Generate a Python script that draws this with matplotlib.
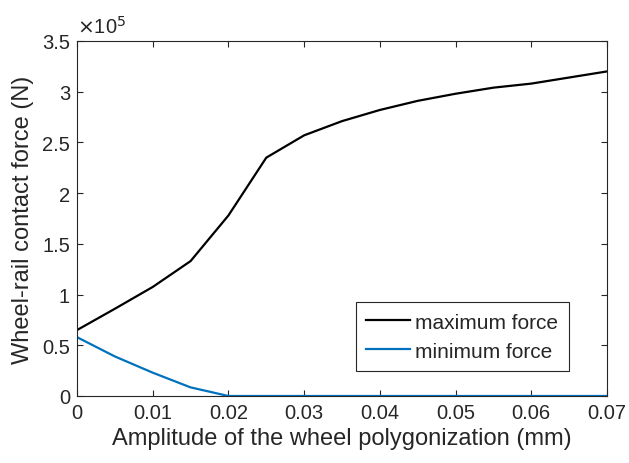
import numpy as np
import matplotlib
matplotlib.use("Agg")
import matplotlib.pyplot as plt
from matplotlib.ticker import FuncFormatter

# amplitude of wheel polygonization (mm)
amplitude = [0.0, 0.005, 0.01, 0.015, 0.02, 0.025, 0.03, 0.035,
             0.04, 0.045, 0.05, 0.055, 0.06, 0.065, 0.07]
# contact force, in units of 1e5 N
max_force = [0.65, 0.86, 1.075, 1.33, 1.78, 2.35, 2.57, 2.71,
             2.82, 2.91, 2.98, 3.04, 3.08, 3.14, 3.20]
min_force = [0.58, 0.39, 0.23, 0.085, 0.0, 0.0, 0.0, 0.0,
             0.0, 0.0, 0.0, 0.0, 0.0, 0.0, 0.0]

SCALE = 1e5
TXT = (0.15, 0.15, 0.15)

plt.rcParams['font.family'] = ['Liberation Sans', 'DejaVu Sans']

fig = plt.figure(figsize=(6.29, 4.64), dpi=100)
# axes box: x 77..607 px, y 42..397 px
ax = fig.add_axes([77 / 629, 1 - 397 / 464, 530 / 629, 355 / 464])

ax.plot(amplitude, np.array(max_force) * SCALE, color='black', lw=1.6,
        label='maximum force')
ax.plot(amplitude, np.array(min_force) * SCALE, color=(0, 0.447, 0.741),
        lw=1.6, label='minimum force')

ax.set_xlim(0, 0.07)
ax.set_ylim(0, 3.5e5)
ax.set_xticks(np.arange(0, 0.0701, 0.01))
ax.set_yticks(np.arange(0, 3.51e5, 0.5e5))
ax.xaxis.set_major_formatter(FuncFormatter(lambda v, p: '0' if v == 0 else f'{v:.2f}'))
ax.yaxis.set_major_formatter(FuncFormatter(lambda v, p: f'{v / SCALE:g}'))

ax.tick_params(direction='in', top=True, right=True, labelsize=14.5,
               colors=TXT, length=4.5, width=0.8, pad=5)
for s in ax.spines.values():
    s.set_color(TXT)
    s.set_linewidth(0.8)

ax.set_xlabel('Amplitude of the wheel polygonization (mm)', fontsize=17, color=TXT,
              labelpad=4)
ax.set_ylabel('Wheel-rail contact force (N)', fontsize=17, color=TXT, labelpad=6)
ax.text(0.0, 1.012, r'$\times$10$^5$', transform=ax.transAxes, fontsize=14.5,
        color=TXT, ha='left', va='bottom')

leg = ax.legend(loc='lower right', bbox_to_anchor=(0.928, 0.07), fontsize=15,
                frameon=True, fancybox=False, edgecolor=TXT, framealpha=1,
                handlelength=2.1, borderpad=0.5, labelspacing=0.48,
                handletextpad=0.25, borderaxespad=0)
leg.get_frame().set_linewidth(0.8)
for t in leg.get_texts():
    t.set_color(TXT)

fig.savefig('out.png', dpi=100)
